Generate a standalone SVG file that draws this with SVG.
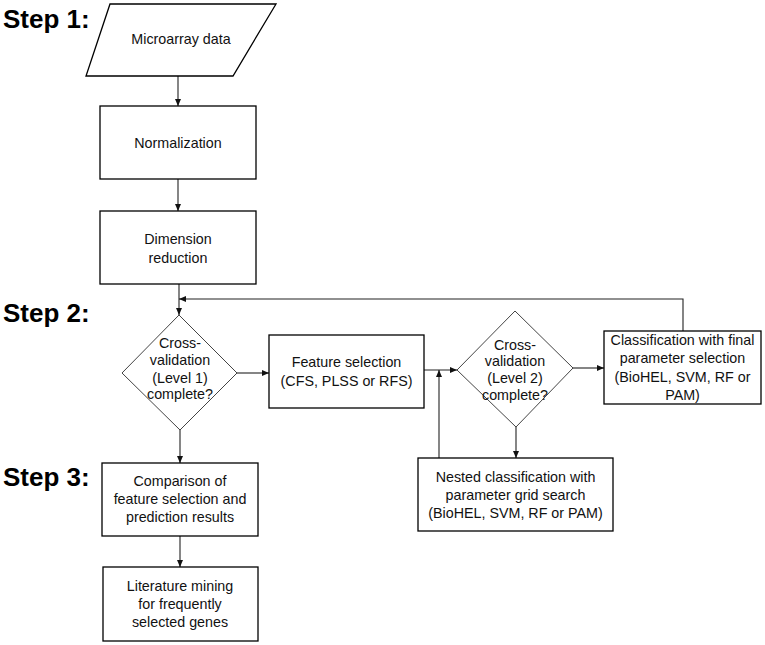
<svg xmlns="http://www.w3.org/2000/svg" width="765" height="645" viewBox="0 0 765 645">
<style>
.step{font-family:"Liberation Sans",Arial,sans-serif;font-weight:bold;font-size:26px;fill:#000}
.lbl{font-family:"Liberation Sans",Arial,sans-serif;font-size:14.3px;fill:#111;text-anchor:middle}
.box{fill:#fff;stroke:#000;stroke-width:1.3}
.dia{fill:#fff;stroke:#444;stroke-width:1}
.con{fill:none;stroke:#222;stroke-width:1.1;marker-end:url(#arr)}
</style>
<defs>
<marker id="arr" markerUnits="userSpaceOnUse" markerWidth="7" markerHeight="6" refX="7" refY="3" orient="auto">
<path d="M0,0 L7,3 L0,6 z" fill="#111"/>
</marker>
</defs>
<rect width="765" height="645" fill="#fff"/>
<g id="steps">
<text class="step" x="3" y="28">Step 1:</text>
<text class="step" x="3" y="322">Step 2:</text>
<text class="step" x="3" y="486">Step 3:</text>
</g>
<g id="connectors">
<line class="con" x1="178" y1="76" x2="178" y2="106"/>
<line class="con" x1="178" y1="179" x2="178" y2="211"/>
<line class="con" x1="179" y1="284" x2="179" y2="315"/>
<polyline class="con" points="683,331 683,299 179,299"/>
<line class="con" x1="237" y1="373" x2="269" y2="373"/>
<line class="con" x1="180" y1="430" x2="180" y2="463"/>
<line class="con" x1="180" y1="536" x2="180" y2="567"/>
<line class="con" x1="424" y1="370" x2="457" y2="370"/>
<line class="con" x1="439" y1="458" x2="439" y2="370"/>
<line class="con" x1="573" y1="368" x2="604" y2="368"/>
<line class="con" x1="516" y1="427" x2="516" y2="458"/>
</g>
<g id="microarray">
<polygon class="box" points="110,4 276,4 233,76 86,76"/>
<text class="lbl" x="181" y="44">Microarray data</text>
</g>
<g id="normalization">
<rect class="box" x="100" y="106" width="156" height="73"/>
<text class="lbl" x="178" y="148">Normalization</text>
</g>
<g id="dimension">
<rect class="box" x="100" y="211" width="156" height="73"/>
<text class="lbl" x="178" y="244">Dimension</text>
<text class="lbl" x="178" y="263">reduction</text>
</g>
<g id="cv1">
<polygon class="dia" points="179,315 237,373 180,430 122,373"/>
<text class="lbl" x="180" y="348">Cross-</text>
<text class="lbl" x="180" y="365">validation</text>
<text class="lbl" x="180" y="383">(Level 1)</text>
<text class="lbl" x="180" y="399">complete?</text>
</g>
<g id="feature">
<rect class="box" x="269" y="335" width="155" height="73"/>
<text class="lbl" x="346.5" y="367">Feature selection</text>
<text class="lbl" x="346.5" y="386">(CFS, PLSS or RFS)</text>
</g>
<g id="cv2">
<polygon class="dia" points="515,311 573,368 516,427 457,370"/>
<text class="lbl" x="515" y="350">Cross-</text>
<text class="lbl" x="515" y="366">validation</text>
<text class="lbl" x="515" y="383">(Level 2)</text>
<text class="lbl" x="515" y="400">complete?</text>
</g>
<g id="final">
<rect class="box" x="604" y="331" width="157" height="73"/>
<text class="lbl" x="682.5" y="345">Classification with final</text>
<text class="lbl" x="682.5" y="363">parameter selection</text>
<text class="lbl" x="682.5" y="382">(BioHEL, SVM, RF or</text>
<text class="lbl" x="682.5" y="400">PAM)</text>
</g>
<g id="nested">
<rect class="box" x="418" y="458" width="195" height="73"/>
<text class="lbl" x="515.5" y="482">Nested classification with</text>
<text class="lbl" x="515.5" y="500">parameter grid search</text>
<text class="lbl" x="515.5" y="518">(BioHEL, SVM, RF or PAM)</text>
</g>
<g id="comparison">
<rect class="box" x="102" y="463" width="156" height="73"/>
<text class="lbl" x="180" y="486">Comparison of</text>
<text class="lbl" x="180" y="504">feature selection and</text>
<text class="lbl" x="180" y="522">prediction results</text>
</g>
<g id="literature">
<rect class="box" x="103" y="567" width="155" height="74"/>
<text class="lbl" x="180" y="591">Literature mining</text>
<text class="lbl" x="180" y="609">for frequently</text>
<text class="lbl" x="180" y="627">selected genes</text>
</g>
</svg>
